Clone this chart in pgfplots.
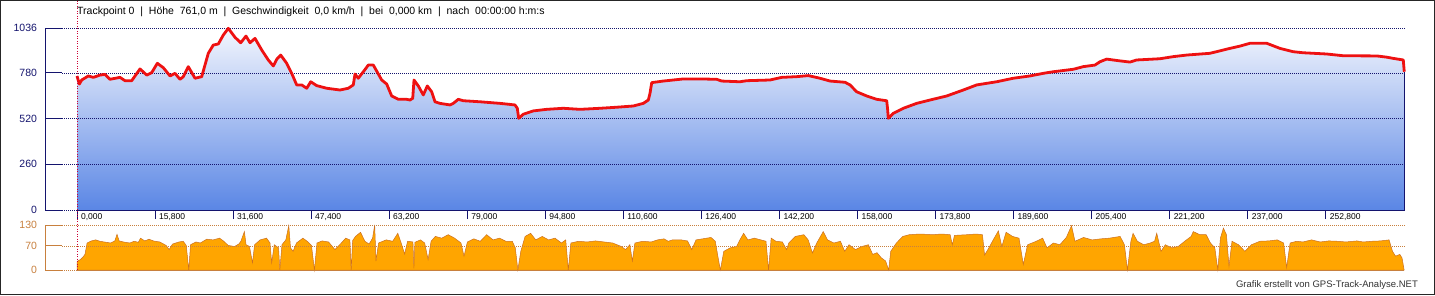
\documentclass[border=0pt]{standalone}
\usepackage{pgfplots}
\usepackage{pgfplotstable}
\pgfplotsset{compat=1.18}
\usepackage{fontspec}
\setmainfont{Liberation Sans}
\definecolor{navy}{HTML}{14146E}
\definecolor{elevtop}{HTML}{F3F6FD}
\definecolor{elevmid}{HTML}{C4D3F5}
\definecolor{elevbot}{HTML}{5A86E5}
\definecolor{elevline}{HTML}{EE1111}
\definecolor{spdfill}{HTML}{FFA500}
\definecolor{spdline}{HTML}{CC7020}
\definecolor{spdaxis}{HTML}{C8803E}
\definecolor{cursor}{HTML}{CC0033}

\pgfplotstableread{
km m
0 763
0.47 717
0.95 740
2.29 763
3.30 755
4.66 768
5.67 772
6.68 744
8.70 755
9.72 736
11.07 736
12.75 803
14.11 768
15.12 782
16.26 835
17.47 810
18.83 763
19.84 778
20.85 744
21.52 759
22.53 816
23.89 750
25.24 759
26.58 892
27.59 939
28.60 945
29.62 996
30.63 1034
31.98 983
33.14 952
34.21 990
35.02 952
36.03 977
37.39 911
38.72 854
39.74 820
40.43 858
41.23 882
42.45 835
43.46 778
44.47 712
45.49 712
46.50 693
47.31 730
48.52 708
50.55 693
53.24 683
54.92 693
55.93 712
56.28 774
56.94 750
57.96 787
58.97 825
59.98 825
61.68 740
62.69 717
63.70 649
65.04 630
66.74 630
67.41 626
67.96 636
68.22 740
69.09 706
70.10 655
70.91 706
71.80 673
72.47 616
73.48 607
75.51 598
76.17 607
77.19 630
78.20 622
81.58 616
85.63 607
88.66 598
89.13 579
89.41 522
90.34 545
92.37 564
95.08 573
98.44 579
101.82 573
105.87 579
109.25 585
112.61 592
114.64 607
115.65 626
115.99 664
116.34 725
118.68 734
122.73 746
126.11 746
129.49 744
130.51 734
134.21 730
135.57 736
140.28 740
142.65 755
145.69 759
148.04 765
150.40 750
152.43 734
155.47 727
156.48 712
157.83 673
159.86 649
161.88 630
163.91 622
164.11 569
164.23 522
165.24 550
167.27 579
169.98 607
172.67 626
176.05 649
179.41 683
182.13 712
186.17 730
189.53 750
192.91 763
195.61 778
197.63 787
201.68 801
203.70 816
206.07 825
207.09 844
208.44 859
210.79 850
213.16 842
214.51 854
219.23 861
221.92 873
224.64 882
229.35 892
233.40 920
235.43 933
237.45 949
240.83 949
243.52 920
246.21 901
248.24 895
252.98 888
256.34 878
263.10 877
265.12 870
266.46 863
268.48 854
268.68 787
}\elev

\pgfplotstableread{
km v
0 0
0.05 25
0.66 30
1.18 37
1.61 45
2.04 78
2.91 84
3.77 87
4.64 83
5.50 81
6.80 78
7.66 84
8.10 103
8.53 84
9.39 81
10.69 78
11.56 83
12.42 80
12.85 92
13.72 84
14.58 89
15.45 84
16.75 81
18.04 71
18.65 59
19.34 75
20.64 81
21.50 83
22.11 71
22.63 0
22.98 73
24.10 81
24.97 78
26.26 89
27.56 87
28.86 92
29.72 83
30.59 71
31.89 68
32.75 75
33.18 83
33.88 111
34.22 73
34.91 68
35.52 21
35.95 73
37.07 87
38.37 92
39.07 78
39.41 21
39.93 73
40.80 64
41.06 0
41.49 73
42.27 87
42.87 128
43.22 64
43.74 54
44.43 78
45.73 92
46.59 83
47.46 71
48.06 0
48.58 78
49.62 84
50.92 81
52.21 59
53.51 78
54.38 92
55.24 87
55.50 0
55.80 85
56.37 97
57.40 109
58.27 83
59.13 75
59.83 92
60.26 130
60.52 26
61.04 78
62.60 87
63.90 83
64.94 106
65.62 78
66.32 46
66.92 83
68.00 81
68.20 5
68.40 80
69.52 87
70.38 78
71.07 30
71.68 83
72.54 97
73.84 92
75.14 102
76.44 92
77.73 78
78.34 40
79.03 81
80.33 90
81.63 83
82.92 102
84.22 87
85.52 92
86.82 83
88.11 83
88.72 64
89.24 0
89.84 54
90.71 97
91.83 106
92.87 87
94.17 97
95.47 87
96.77 92
98.06 78
98.93 87
99.45 0
99.97 78
101.52 83
103.25 81
104.98 84
106.71 81
108.44 78
110.18 68
111.04 59
111.91 73
112.42 26
112.94 78
114.50 83
116.23 81
117.53 87
118.82 90
119.69 83
120.55 87
122.28 87
123.58 84
124.45 59
125.31 87
126.61 90
128.34 94
129.20 83
129.90 26
130.24 0
130.93 54
132.23 64
133.53 68
134.07 84
134.94 106
135.81 87
137.12 92
138.43 87
139.47 83
139.99 0
140.52 92
141.48 83
142.78 81
143.65 59
144.09 78
145.40 97
147.14 102
148.01 87
148.88 49
149.75 78
151.06 111
151.93 87
153.23 78
154.54 83
155.41 54
156.28 73
157.59 59
158.90 68
160.20 73
161.07 45
161.95 50
162.82 35
163.69 26
164.30 0
164.73 54
165.87 78
167.17 97
168.48 102
170.66 104
173.27 102
175.01 104
176.75 102
177.19 73
177.63 100
180.24 102
181.98 104
183.29 102
183.72 43
184.59 64
185.47 87
186.51 113
187.21 68
188.08 109
189.38 97
190.69 92
191.56 16
192.43 73
194.18 83
195.48 92
196.35 64
197.66 78
198.97 73
200.27 94
201.32 128
202.02 83
203.76 94
205.50 87
207.24 90
208.98 92
211.16 97
212.03 73
212.64 0
213.34 83
213.78 106
214.65 83
215.95 73
217.26 78
218.13 83
218.57 106
219.44 54
220.31 73
221.62 64
222.92 68
224.23 83
225.53 97
225.97 111
227.28 102
228.58 102
229.45 78
230.33 64
230.94 0
231.46 92
232.07 121
232.68 102
233.20 11
233.81 83
235.12 73
236.42 54
237.73 73
239.47 83
241.21 84
242.96 87
244.26 78
244.87 7
245.57 78
246.88 83
248.18 81
249.92 87
251.67 81
253.41 84
255.15 83
256.89 81
259.07 84
260.38 81
262.12 83
263.86 84
265.60 87
266.30 54
266.91 40
267.78 45
268.22 35
268.66 0
}\speed

\begin{document}
\begin{tikzpicture}
\useasboundingbox (0pt,0pt) rectangle (1435pt,295pt);
\fill[white] (0pt,0pt) rectangle (1435pt,295pt);
\draw[black!85, line width=1pt] (0.5pt,0.5pt) rectangle (1434.5pt,294.5pt);

% header
\node[anchor=west, inner sep=0pt, font=\fontsize{10.5pt}{12pt}\selectfont] at (77pt,283pt)
 {Trackpoint 0 \ | \ Höhe \ 761,0 m \ | \ Geschwindigkeit \ 0,0 km/h \ | \ bei \ 0,000 km \ | \ nach \ 00:00:00 h:m:s};

% elevation axis
\begin{axis}[
  at={(45pt,85pt)}, anchor=south west,
  scale only axis, width=1360pt, height=182pt,
  xmin=-6.48, xmax=268.83, ymin=0, ymax=1036,
  clip=false,
  axis line style={draw=none},
  tick pos=left, tick align=outside, major tick length=9pt,
  xtick={0,15.8,31.6,47.4,63.2,79.0,94.8,110.6,126.4,142.2,158.0,173.8,189.6,205.4,221.2,237.0,252.8},
  xticklabels={{0,000},{15,800},{31,600},{47,400},{63,200},{79,000},{94,800},{110,600},{126,400},{142,200},{158,000},{173,800},{189,600},{205,400},{221,200},{237,000},{252,800}},
  xtick style={navy, line width=0.8pt},
  xticklabel style={anchor=north west, xshift=0.5pt, yshift=8.5pt, font=\fontsize{8.5pt}{10pt}\selectfont, text=black},
  ytick={0,260,520,780,1036},
  yticklabels={0,260,520,780,1036},
  ytick style={draw=none},
  yticklabel style={xshift=4.5pt, font=\fontsize{10.5pt}{12pt}\selectfont, text=navy},
]
\addplot[draw=none, top color=elevtop, middle color=elevmid, bottom color=elevbot] table[x=km,y=m] {\elev} \closedcycle;
\pgfplotsinvokeforeach{260,520,780,1036}{
  \draw[navy, dash pattern=on 1pt off 1pt] (axis cs:-6.48,#1) ++(17pt,0pt) -- (axis cs:268.83,#1);
  \draw[navy, line width=1pt] (axis cs:-6.48,#1) -- ++(17pt,0pt);
}
\draw[navy, dash pattern=on 1pt off 1pt] (axis cs:-6.48,0) ++(17pt,0pt) -- (axis cs:0,0);
\draw[navy, line width=1pt] (axis cs:-6.48,0) -- ++(17pt,0pt);
\draw[navy, line width=1pt] (axis cs:-6.48,0) -- (axis cs:-6.48,1036);
\draw[navy, line width=1pt] (axis cs:0,0) -- (axis cs:268.83,0);
\draw[navy, line width=0.8pt] (axis cs:268.68,0) -- (axis cs:268.68,787);
\addplot[elevline, line width=2.8pt, line join=round] table[x=km,y=m] {\elev};
\end{axis}

% speed axis
\begin{axis}[
  at={(45pt,25pt)}, anchor=south west,
  scale only axis, width=1360pt, height=45pt,
  xmin=-6.48, xmax=268.83, ymin=0, ymax=130,
  clip=false,
  axis line style={draw=none},
  tick pos=left, tick align=outside, major tick length=9pt,
  xtick=\empty,
  ytick={0,70,130},
  yticklabels={0,70,130},
  ytick style={draw=none},
  yticklabel style={xshift=4.5pt, font=\fontsize{10.5pt}{12pt}\selectfont, text=spdaxis},
]
\addplot[fill=spdfill, draw=spdline, line width=0.5pt] table[x=km,y=v] {\speed} \closedcycle;
\pgfplotsinvokeforeach{70,130}{
  \draw[spdaxis, dash pattern=on 1pt off 1pt] (axis cs:-6.48,#1) ++(17pt,0pt) -- (axis cs:268.83,#1);
  \draw[spdaxis, line width=1pt] (axis cs:-6.48,#1) -- ++(17pt,0pt);
}
\draw[spdaxis, dash pattern=on 1pt off 1pt] (axis cs:-6.48,0) ++(17pt,0pt) -- (axis cs:0,0);
\draw[spdaxis, line width=1pt] (axis cs:-6.48,0) -- ++(17pt,0pt);
\draw[spdaxis, line width=1pt] (axis cs:-6.48,0) -- (axis cs:-6.48,130);
\draw[spdaxis, line width=1pt] (axis cs:0,0) -- (axis cs:268.68,0);
\end{axis}

% cursor line
\draw[cursor, line width=0.8pt, dash pattern=on 1pt off 1.5pt] (77pt,294pt) -- (77pt,25pt);

% credit
\node[anchor=east, inner sep=0pt, text=black!80, font=\fontsize{9.5pt}{11pt}\selectfont] at (1418pt,10pt)
 {Grafik erstellt von GPS-Track-Analyse.NET};
\end{tikzpicture}
\end{document}
